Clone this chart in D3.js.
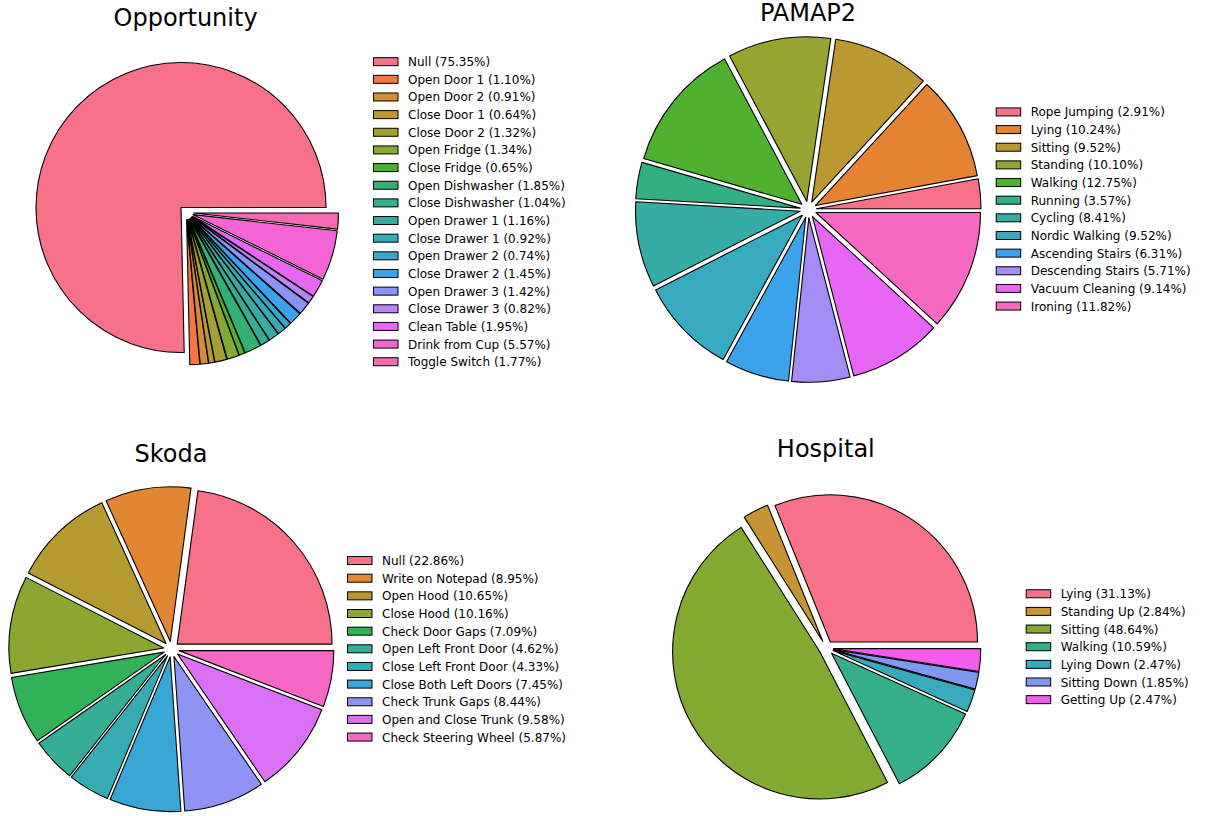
<!DOCTYPE html>
<html>
<head>
<meta charset="utf-8">
<script src="https://cdn.jsdelivr.net/npm/d3@7"></script>
<style>
  html, body { margin: 0; padding: 0; background: #fff; }
  svg { display: block; font-family: "DejaVu Sans", sans-serif; }
</style>
</head>
<body>
<svg id="chart" width="1205" height="816"></svg>
<script>
// ---------------- DATA ----------------
const opportunityLabels = ["Null", "Open Door 1", "Open Door 2", "Close Door 1", "Close Door 2", "Open Fridge", "Close Fridge", "Open Dishwasher", "Close Dishwasher", "Open Drawer 1", "Close Drawer 1", "Open Drawer 2", "Close Drawer 2", "Open Drawer 3", "Close Drawer 3", "Clean Table", "Drink from Cup", "Toggle Switch"];
const opportunityValues = [75.35, 1.10, 0.91, 0.64, 1.32, 1.34, 0.65, 1.85, 1.04, 1.16, 0.92, 0.74, 1.45, 1.42, 0.82, 1.95, 5.57, 1.77];

const pamapLabels = ["Rope Jumping", "Lying", "Sitting", "Standing", "Walking", "Running", "Cycling", "Nordic Walking", "Ascending Stairs", "Descending Stairs", "Vacuum Cleaning", "Ironing"];
const pamapValues = [2.91, 10.24, 9.52, 10.10, 12.75, 3.57, 8.41, 9.52, 6.31, 5.71, 9.14, 11.82];

const skodaLabels = ["Null", "Write on Notepad", "Open Hood", "Close Hood", "Check Door Gaps", "Open Left Front Door", "Close Left Front Door", "Close Both Left Doors", "Check Trunk Gaps", "Open and Close Trunk", "Check Steering Wheel"];
const skodaValues = [22.86, 8.95, 10.65, 10.16, 7.09, 4.62, 4.33, 7.45, 8.44, 9.58, 5.87];

const hospitalLabels = ["Lying", "Standing Up", "Sitting", "Walking", "Lying Down", "Sitting Down", "Getting Up"];
const hospitalValues = [31.13, 2.84, 48.64, 10.59, 2.47, 1.85, 2.47];

const titles = ["Opportunity", "PAMAP2", "Skoda", "Hospital"];

// ---------------- LAYOUT (positions / sizes) ----------------
const layout = [
  { cx: 186.2, cy: 212.6, r: 145,   titleX: 185.6, titleY: 26,    legX: 373.5, legCY: 211.7 },
  { cx: 808.2, cy: 209.5, r: 164.6, titleX: 808,   titleY: 20.7,  legX: 996.2, legCY: 209.0 },
  { cx: 171.4, cy: 649.2, r: 154.8, titleX: 171,   titleY: 461.7, legX: 347.5, legCY: 648.8 },
  { cx: 826.2, cy: 648.1, r: 147.2, titleX: 825.8, titleY: 457.3, legX: 1026.2, legCY: 646.7 }
];
const explode = 0.05;
const rowStep = 17.65;

// ---------------- HUSL palette (seaborn husl_palette) ----------------
const Mx = [[3.2406, -1.5372, -0.4986], [-0.9689, 1.8758, 0.0415], [0.0557, -0.2040, 1.0570]];
const refU = 0.19784, refV = 0.46834, labE = 0.008856, labK = 903.3;
function maxChroma(L, H) {
  const hrad = H * Math.PI / 180, sinH = Math.sin(hrad), cosH = Math.cos(hrad);
  const sub1 = Math.pow(L + 16, 3) / 1560896.0;
  const sub2 = sub1 > 0.008856 ? sub1 : L / 903.3;
  let result = Infinity;
  for (const [m1, m2, m3] of Mx) {
    const top = (0.99915 * m1 + 1.05122 * m2 + 1.14460 * m3) * sub2;
    const rbottom = 0.86330 * m3 - 0.17266 * m2;
    const lbottom = 0.12949 * m3 - 0.38848 * m1;
    const bottom = (rbottom * sinH + lbottom * cosH) * sub2;
    for (const t of [0, 1]) {
      const C = L * (top - 1.05122 * t) / (bottom + 0.17266 * sinH * t);
      if (C > 0 && C < result) result = C;
    }
  }
  return result;
}
function fInv(t) { return Math.pow(t, 3) > labE ? Math.pow(t, 3) : (116 * t - 16) / labK; }
function fromLinear(c) { return c <= 0.0031308 ? 12.92 * c : 1.055 * Math.pow(c, 1 / 2.4) - 0.055; }
function huslToRgb(H, S, L) {
  const C = maxChroma(L, H) / 100 * S;
  const hr = H * Math.PI / 180;
  const U = Math.cos(hr) * C, V = Math.sin(hr) * C;
  const varY = fInv((L + 16) / 116);
  const varU = U / (13 * L) + refU, varV = V / (13 * L) + refV;
  const Y = varY;
  const X = 0 - (9 * Y * varU) / ((varU - 4) * varV - varU * varV);
  const Z = (9 * Y - 15 * varV * Y - varV * X) / (3 * varV);
  const rgb = Mx.map(row => fromLinear(row[0] * X + row[1] * Y + row[2] * Z));
  return d3.rgb(...rgb.map(v => Math.max(0, Math.min(1, v)) * 255)).formatHex();
}
function huslPalette(n) {
  const out = [];
  for (let i = 0; i < n; i++) {
    let h = (i / n + 0.01) % 1;
    out.push(huslToRgb(h * 359, 0.9 * 99, 0.65 * 99));
  }
  return out;
}

// ---------------- DRAW ----------------
const svg = d3.select("#chart");
svg.append("rect").attr("width", 1205).attr("height", 816).attr("fill", "#fff");

const datasets = [
  [opportunityLabels, opportunityValues],
  [pamapLabels, pamapValues],
  [skodaLabels, skodaValues],
  [hospitalLabels, hospitalValues]
];

datasets.forEach(([labels, values], k) => {
  const L = layout[k];
  const color = d3.scaleOrdinal().domain(labels).range(huslPalette(labels.length));
  const g = svg.append("g");

  const pie = d3.pie().sort(null).value(d => d.v)
    .startAngle(Math.PI / 2).endAngle(Math.PI / 2 - 2 * Math.PI);
  const arcs = pie(labels.map((l, i) => ({ l, v: values[i] })));
  const arc = d3.arc().innerRadius(0).outerRadius(L.r);
  const off = explode * L.r;

  g.selectAll("path.w").data(arcs).join("path")
    .attr("class", "w")
    .attr("transform", d => {
      const a = (d.startAngle + d.endAngle) / 2;
      return `translate(${L.cx + off * Math.sin(a)},${L.cy - off * Math.cos(a)})`;
    })
    .attr("d", arc)
    .attr("fill", d => color(d.data.l))
    .attr("stroke", "#000")
    .attr("stroke-width", 1.1)
    .attr("stroke-linejoin", "round");

  svg.append("text")
    .attr("x", L.titleX).attr("y", L.titleY)
    .attr("text-anchor", "middle")
    .attr("font-size", 24)
    .attr("fill", "#000")
    .text(titles[k]);

  const n = labels.length;
  const y0 = L.legCY - (n - 1) * rowStep / 2;
  const leg = svg.append("g");
  labels.forEach((lab, i) => {
    const yc = y0 + i * rowStep;
    leg.append("rect")
      .attr("x", L.legX).attr("y", yc - 4)
      .attr("width", 24.5).attr("height", 8)
      .attr("fill", color(lab))
      .attr("stroke", "#000").attr("stroke-width", 1);
    leg.append("text")
      .attr("x", L.legX + 34.5).attr("y", yc + 4.5)
      .attr("font-size", 12)
      .attr("fill", "#000")
      .text(`${lab} (${values[i].toFixed(2)}%)`);
  });
});
</script>
</body>
</html>
